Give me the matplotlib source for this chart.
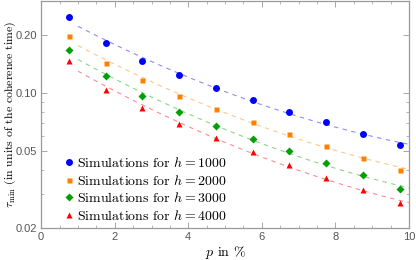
import numpy as np
import matplotlib
matplotlib.use("Agg")
import matplotlib.pyplot as plt
from matplotlib.ticker import FixedLocator, FixedFormatter, MultipleLocator, LogLocator, NullFormatter

plt.rcParams["mathtext.fontset"] = "cm"

# data
p = [0.75, 1.75, 2.75, 3.75, 4.75, 5.75, 6.75, 7.75, 8.75, 9.75]
tau_h1000 = [0.246, 0.182, 0.147, 0.124, 0.106, 0.0918, 0.0796, 0.0704, 0.0616, 0.0538]
tau_h2000 = [0.196, 0.143, 0.117, 0.0964, 0.0828, 0.0706, 0.0612, 0.0532, 0.0463, 0.0401]
tau_h3000 = [0.166, 0.122, 0.0962, 0.0800, 0.0678, 0.0578, 0.0498, 0.0433, 0.0374, 0.0320]
tau_h4000 = [0.146, 0.104, 0.0832, 0.0694, 0.0582, 0.0495, 0.0424, 0.0364, 0.0313, 0.0270]
h_values = [1000, 2000, 3000, 4000]

series = [tau_h1000, tau_h2000, tau_h3000, tau_h4000]
colors = ["#0000ff", "#ff8000", "#00a000", "#ff0000"]
markers = ["o", "s", "D", "^"]
sizes = [5, 3.6, 4.2, 4.8]

fig = plt.figure(figsize=(4.16, 2.6), dpi=100)
ax = fig.add_axes([0.099, 0.123, 0.884, 0.874])

# dashed fits (quadratic in log tau)
pp = np.linspace(1.0, 10.0, 200)
for y, c in zip(series, colors):
    coef = np.polyfit(p, np.log(y), 2)
    ax.plot(pp, np.exp(np.polyval(coef, pp)), ls=(0, (4, 4)), lw=0.8, color=c, alpha=0.45, zorder=1)

for y, c, m, s, h in zip(series, colors, markers, sizes, h_values):
    ax.plot(p, y, ls="none", marker=m, ms=s, color=c, mec="none", zorder=3,
            label=r"Simulations for $h = %d$" % h)

ax.set_yscale("log")
ax.set_xlim(0, 10)
ax.set_ylim(0.02, 0.3)

ax.xaxis.set_major_locator(MultipleLocator(2))
ax.xaxis.set_minor_locator(MultipleLocator(0.5))
yt = [0.02, 0.05, 0.10, 0.20]
ax.yaxis.set_major_locator(FixedLocator(yt))
ax.yaxis.set_major_formatter(FixedFormatter(["0.02", "0.05", "0.10", "0.20"]))
ax.yaxis.set_minor_locator(LogLocator(subs=np.arange(1, 10)))
ax.yaxis.set_minor_formatter(NullFormatter())

grey = "#999999"
for sp in ax.spines.values():
    sp.set_color(grey)
    sp.set_linewidth(0.9)
ax.tick_params(which="both", direction="in", color=grey, top=True, right=True,
               labelsize=8, labelcolor="#555555", pad=3)
ax.tick_params(which="major", length=4, width=0.6)
ax.tick_params(which="minor", length=2, width=0.5)
for lab in ax.get_xticklabels() + ax.get_yticklabels():
    lab.set_family("Liberation Sans")

ax.set_xlabel(r"$p$ in %", fontsize=10, family="cmr10", labelpad=1)
ax.set_ylabel(r"$\tau_{\min}$ (in units of the coherence time)", fontsize=8.5, family="cmr10")
ax.yaxis.set_label_coords(-0.064, 0.5)

leg = ax.legend(loc="lower left", bbox_to_anchor=(0.03, -0.025), frameon=False, handletextpad=0.2,
                handlelength=0.8, borderpad=0.3, labelspacing=0.25, markerscale=1.0,
                prop={"family": "cmr10", "size": 10})

fig.savefig("out.png", dpi=100)
